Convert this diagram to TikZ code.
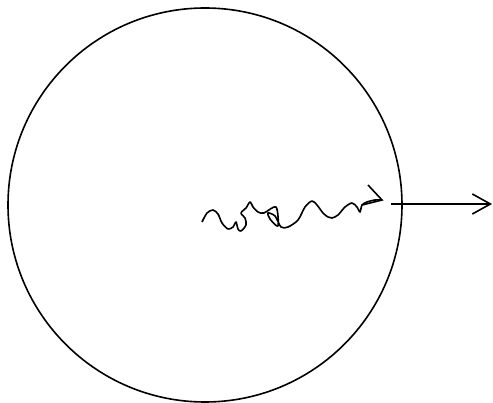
\documentclass[tikz,border=0pt]{standalone}
\usepackage{tikz}
\usetikzlibrary{arrows.meta}

\begin{document}
\begin{tikzpicture}[x=1pt,y=-1pt,line width=1.6pt,>={Straight Barb[length=18pt,width=20pt]}]
  \useasboundingbox (0,0) rectangle (493,403);
  \node[circle,draw,line width=1.6pt,inner sep=0pt,minimum size=394pt] (disc) at (205,205) {};
  \coordinate (start) at (391,204);
  \coordinate (far) at (492,204);
  \coordinate (tip) at (382,200);

  % random walk inside the disc
  \draw[line join=round] plot[smooth,tension=0.5] coordinates {
    (202,222) (207,213) (213,210) (218,214) (222,223) (228,229) (233,227)
    (236,222) (238,229) (241,231) (246,225) (245,218) (241,213) (246,208)
    (250,202) (253,207) (258,212) (264,213) (276,207) (278,226) (270,219)
    (268,213) (275,216) (281,227) (288,227) (298,220) (305,207) (312,201)
    (317,205) (323,213) (328,217) (332,218) (338,215) (345,207) (352,203)
    (357,207) (360,212) (362,205) (367,202) (375,200) (tip)};
  \draw (368,185) -- (tip) -- (362,205);

  \draw[->] (start) -- (far);
\end{tikzpicture}
\end{document}
